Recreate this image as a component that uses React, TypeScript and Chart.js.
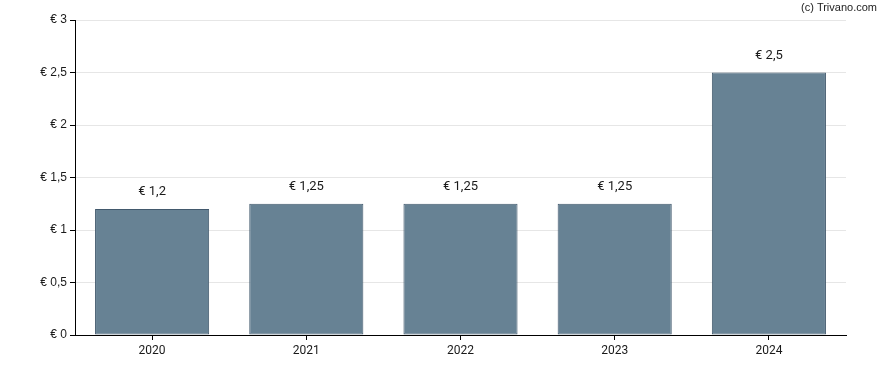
import React, { useEffect, useRef } from "react";
import { Chart, registerables } from "chart.js";

Chart.register(...registerables);

const categories = ["2020", "2021", "2022", "2023", "2024"];
const values = [1.2, 1.25, 1.25, 1.25, 2.5];
const yMin = 0;
const yMax = 3;
const yStep = 0.5;
const credit = "(c) Trivano.com";

const fmt = (v: number) => "€ " + String(v).replace(".", ",");

const labelPlugin = {
  id: "barLabels",
  afterDatasetsDraw(chart: any) {
    const ctx = chart.ctx;
    const meta = chart.getDatasetMeta(0);
    ctx.save();
    ctx.font = "13px Roboto";
    ctx.fillStyle = "#1a1a1a";
    ctx.textAlign = "center";
    ctx.textBaseline = "middle";
    meta.data.forEach((el: any, i: number) => {
      ctx.fillText(fmt(values[i]), el.x, el.y - 17);
    });
    ctx.font = "11px 'Liberation Sans', Arial";
    ctx.fillStyle = "#222";
    ctx.textAlign = "right";
    ctx.fillText(credit, 877, 7.5);
    ctx.restore();
  },
};

export default function App() {
  const ref = useRef<HTMLCanvasElement>(null);
  useEffect(() => {
    const chart = new Chart(ref.current!, {
      type: "bar",
      data: {
        labels: categories,
        datasets: [
          {
            data: values,
            backgroundColor: "#678294",
            borderColor: "#42596d",
            borderWidth: 1,
            borderSkipped: false,
            barPercentage: 0.74,
            categoryPercentage: 1,
          },
        ],
      },
      plugins: [labelPlugin],
      options: {
        animation: false,
        responsive: false,
        maintainAspectRatio: false,
        layout: { padding: { left: 0, right: 42, top: 20, bottom: 0 } },
        plugins: { legend: { display: false }, tooltip: { enabled: false } },
        scales: {
          x: {
            afterFit: (s: any) => {
              s.height = 35;
            },
            grid: {
              display: true,
              offset: false,
              drawOnChartArea: false,
              tickLength: 5,
              tickColor: "#000",
            },
            border: { color: "#000", width: 1 },
            ticks: { color: "#1a1a1a", font: { family: "Roboto", size: 12 }, padding: 4 },
          },
          y: {
            min: yMin,
            max: yMax,
            afterFit: (s: any) => {
              s.width = 75;
            },
            grid: { color: "#e6e6e6", tickLength: 5, tickColor: "#000" },
            border: { color: "#000", width: 1 },
            ticks: {
              stepSize: yStep,
              color: "#1a1a1a",
              padding: 3,
              font: { family: "'Liberation Sans', Arial", size: 12 },
              callback: (v: any) => fmt(Number(v)),
            },
          },
        },
      },
    });
    return () => chart.destroy();
  }, []);
  return (
    <div style={{ position: "fixed", left: 0, top: 0, width: 888, height: 370, background: "#fff" }}>
      <canvas ref={ref} width={888} height={370} />
    </div>
  );
}
